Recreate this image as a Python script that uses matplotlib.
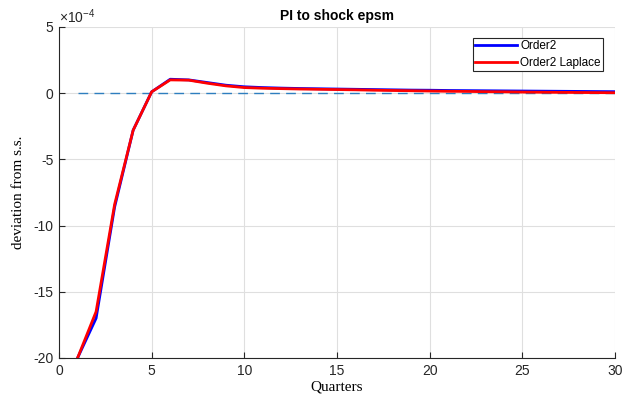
import matplotlib
matplotlib.use("Agg")
import matplotlib.pyplot as plt
import numpy as np

plt.rcParams['font.family'] = ['Liberation Sans', 'DejaVu Sans']
plt.rcParams['axes.unicode_minus'] = False
plt.rcParams['mathtext.fontset'] = 'custom'
plt.rcParams['mathtext.rm'] = 'Liberation Sans'
plt.rcParams['mathtext.it'] = 'Liberation Sans:italic'

quarters = list(range(1, 31))
order2 = [-20.0, -17.0, -8.6, -2.8, 0.1, 1.05, 1.0, 0.8, 0.6, 0.48,
          0.42, 0.38, 0.35, 0.33, 0.31, 0.29, 0.27, 0.25, 0.23, 0.22,
          0.20, 0.19, 0.18, 0.17, 0.16, 0.15, 0.14, 0.13, 0.12, 0.11]
order2_laplace = [-20.0, -16.5, -8.4, -2.8, 0.1, 1.0, 0.98, 0.75, 0.55, 0.42,
                  0.37, 0.34, 0.31, 0.29, 0.27, 0.25, 0.22, 0.20, 0.18, 0.16,
                  0.14, 0.13, 0.11, 0.10, 0.08, 0.07, 0.06, 0.05, 0.04, 0.03]

fig = plt.figure(figsize=(6.22, 3.96), dpi=100)
ax = fig.add_axes([0.0949, 0.096, 0.8938, 0.836])

x = np.array(quarters)
ax.plot([1, 30], [0, 0], linestyle=(0, (7, 4.5)), color='#2E7EBF', lw=1.0, zorder=2)
ax.plot(x, np.array(order2), color='#0000FF', lw=2.0, label='Order2', zorder=3)
ax.plot(x, np.array(order2_laplace), color='#FF0000', lw=2.0, label='Order2 Laplace', zorder=4)

ax.set_xlim(0, 30)
ax.set_ylim(-20, 5)
ax.set_xticks([0, 5, 10, 15, 20, 25, 30])
ax.set_yticks([-20, -15, -10, -5, 0, 5])
ax.grid(True, color='#DFDFDF', lw=0.8)
ax.set_axisbelow(True)
for s in ['top', 'right']:
    ax.spines[s].set_visible(False)
for s in ['left', 'bottom']:
    ax.spines[s].set_color('#262626')
    ax.spines[s].set_linewidth(0.8)
ax.tick_params(direction='in', length=4, labelsize=10, colors='#262626', pad=4)

ax.text(0.0, 1.003, r'$\times10^{-4}$', transform=ax.transAxes, fontsize=10,
        color='#262626', ha='left', va='bottom')
ax.set_title('PI to shock epsm', fontsize=10, fontweight='bold', pad=5)
ax.set_xlabel('Quarters', family='Liberation Serif', fontsize=11, labelpad=2)
ax.set_ylabel('deviation from s.s.', family='Liberation Serif', fontsize=11, labelpad=6)

leg = ax.legend(loc='upper right', bbox_to_anchor=(0.983, 0.975), fontsize=8.5,
                fancybox=False, edgecolor='#262626', framealpha=1,
                handlelength=3.5, borderpad=0.2, labelspacing=0.4, handletextpad=0.3,
                borderaxespad=0.2)
leg.get_frame().set_linewidth(0.8)

fig.savefig('out.png', dpi=100)
